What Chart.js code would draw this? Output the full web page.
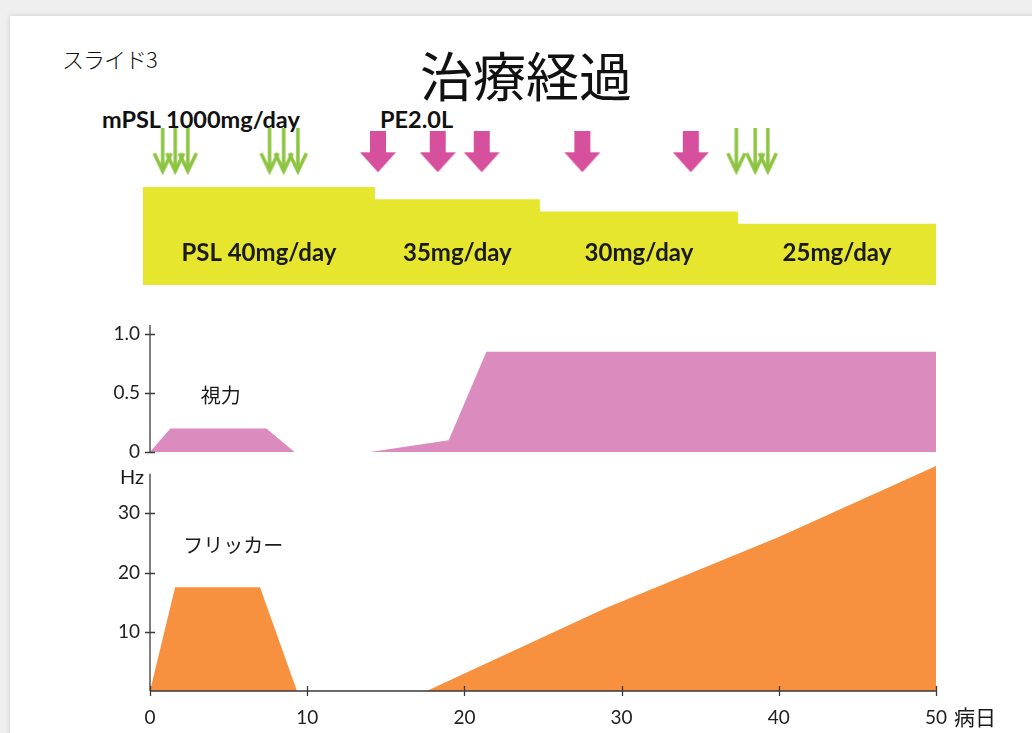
<!DOCTYPE html>
<html lang="ja">
<head>
<meta charset="utf-8">
<title>治療経過</title>
<script src="https://cdn.jsdelivr.net/npm/chart.js@4.4.1/dist/chart.umd.min.js"></script>
<style>
  html, body { margin: 0; padding: 0; }
  body { width: 1032px; height: 733px; overflow: hidden; position: relative; background: #efefef; }
  #slide { position: absolute; left: 10px; top: 16px; width: 1060px; height: 760px; background: #fff;
           box-shadow: 0 0 6px rgba(0,0,0,0.14); }
  canvas { position: absolute; left: 0; }
  .t { position: absolute; white-space: nowrap; line-height: 1; color: #111; }
  #title { left: 420px; top: 36px; font: 400 53px "Noto Sans CJK JP", sans-serif; }
  #slideNo { left: 62px; top: 42px; font: 300 22px "Noto Sans CJK JP", sans-serif; letter-spacing: -1px; }
  .drug { font: 700 23.5px Lato, "Open Sans", sans-serif; top: 105px; }
</style>
</head>
<body>
<div id="slide"></div>
<div class="t" id="slideNo">スライド3</div>
<div class="t" id="title">治療経過</div>
<div class="t drug" style="left:102px">mPSL 1000mg/day</div>
<div class="t drug" style="left:380px">PE2.0L</div>
<canvas id="cTreat" width="1032" height="300" style="top:0"></canvas>
<canvas id="cVision" width="1032" height="160" style="top:300px"></canvas>
<canvas id="cFlicker" width="1032" height="278" style="top:455px"></canvas>
<script>
// Prednisolone dose steps (mg/day), each level held until the next change day
const doseDays   = [-0.45, 14.3, 24.8, 37.4, 50];
const doseValues = [40, 35, 30, 25, 25];
const doseLabels = ['PSL 40mg/day', '35mg/day', '30mg/day', '25mg/day'];

// Pulse days: methylprednisolone (green) and plasma exchange (magenta)
const mpslDays = [0.8, 1.6, 2.4, 7.6, 8.5, 9.4, 37.3, 38.5, 39.3];
const peDays   = [14.5, 18.3, 21.1, 27.5, 34.4];

// Visual acuity (null = not measurable)
const visionDays   = [0, 1.3, 7.4, 9.2, 11, 14.0, 19.0, 21.4, 50];
const visionValues = [0, 0.2, 0.2, 0, null, 0, 0.1, 0.85, 0.85];

// Critical flicker frequency (Hz)
const flickerDays   = [0, 1.6, 7.0, 9.35, 13, 17.6, 29, 40, 50];
const flickerValues = [0, 17.5, 17.5, 0, null, 0, 14, 26, 38];

// Axis ticks
const dayTicks          = [0, 10, 20, 30, 40, 50];
const visionTicks       = [0, 0.5, 1.0];
const visionTickLabels  = ['0', '0.5', '1.0'];
const flickerTicks      = [10, 20, 30];
const flickerTickLabels = ['10', '20', '30'];

const ARROW_ROW = 0.72;
const TICK_FONT = { family: 'Lato, "Open Sans", sans-serif', size: 19 };
const AXIS_COLOR = '#3a3a3a';

const pts = (xs, ys) => xs.map((x, i) => ({ x, y: ys[i] }));

function blockArrow(color) {
  const c = document.createElement('canvas');
  c.width = 36; c.height = 41;
  const g = c.getContext('2d');
  g.fillStyle = color;
  g.beginPath();
  g.moveTo(10, 0); g.lineTo(26, 0); g.lineTo(26, 21); g.lineTo(36, 21);
  g.lineTo(18, 41); g.lineTo(0, 21); g.lineTo(10, 21); g.closePath();
  g.fill();
  return c;
}
function lineArrow(color) {
  const c = document.createElement('canvas');
  c.width = 22; c.height = 47;
  const g = c.getContext('2d');
  g.strokeStyle = color; g.lineWidth = 3.5; g.lineJoin = 'miter'; g.lineCap = 'butt';
  g.beginPath(); g.moveTo(11, 0); g.lineTo(11, 43); g.stroke();
  g.beginPath(); g.moveTo(2.5, 25); g.lineTo(11, 43); g.lineTo(19.5, 25); g.stroke();
  return c;
}

const common = {
  responsive: false,
  animation: false,
  events: [],
  plugins: { legend: { display: false }, tooltip: { enabled: false } }
};

// Labels inside each dose step
const doseLabelPlugin = {
  id: 'doseLabels',
  afterDatasetsDraw(chart) {
    const { ctx } = chart;
    const xs = chart.scales.x, ys = chart.scales.yDose;
    ctx.save();
    ctx.font = '700 24px Lato, "Open Sans", sans-serif';
    ctx.fillStyle = '#1a1a1a';
    ctx.textAlign = 'center';
    ctx.textBaseline = 'middle';
    const base = ys.getPixelForValue(0);
    doseLabels.forEach((lab, i) => {
      const cx = (xs.getPixelForValue(doseDays[i]) + xs.getPixelForValue(doseDays[i + 1])) / 2;
      ctx.fillText(lab, cx, base - 32);
    });
    ctx.restore();
  }
};

new Chart(document.getElementById('cTreat'), {
  type: 'line',
  data: {
    datasets: [
      { data: pts(mpslDays, mpslDays.map(() => ARROW_ROW)), yAxisID: 'yMark', showLine: false,
        pointStyle: lineArrow('#8cc43f'), pointRadius: 10 },
      { data: pts(peDays, peDays.map(() => ARROW_ROW)), yAxisID: 'yMark', showLine: false,
        pointStyle: blockArrow('#d6509d'), pointRadius: 10 },
      { data: pts(doseDays, doseValues), yAxisID: 'yDose', stepped: 'before', fill: 'origin',
        backgroundColor: '#e6e62e', borderWidth: 0, pointRadius: 0 }
    ]
  },
  options: {
    ...common,
    layout: { padding: { left: 143, right: 96, top: 100, bottom: 15 } },
    scales: {
      x: { type: 'linear', axis: 'x', min: -0.45, max: 50, display: false },
      yDose: { type: 'linear', axis: 'y', min: 0, max: 75.5, display: false },
      yMark: { type: 'linear', axis: 'y', min: 0, max: 1, display: false }
    }
  },
  plugins: [doseLabelPlugin]
});

// Axis lines with cross-shaped ticks, plus panel labels
const crossAxisPlugin = {
  id: 'crossAxis',
  afterDraw(chart, args, opts) {
    const { ctx } = chart;
    const xs = chart.scales.x, ys = chart.scales.y;
    const x0 = xs.getPixelForValue(0);
    const y0 = ys.getPixelForValue(0);
    ctx.save();
    ctx.strokeStyle = AXIS_COLOR;
    ctx.lineWidth = 1.3;
    ctx.beginPath();
    ctx.moveTo(x0, y0);
    ctx.lineTo(x0, ys.getPixelForValue(opts.axisTop));
    ys.ticks.forEach(t => {
      const p = Math.round(ys.getPixelForValue(t.value)) + 0.5;
      ctx.moveTo(x0 - 5, p); ctx.lineTo(x0 + 5, p);
    });
    if (opts.xAxis) {
      ctx.moveTo(x0, y0); ctx.lineTo(xs.getPixelForValue(50), y0);
      xs.ticks.forEach(t => {
        const p = Math.round(xs.getPixelForValue(t.value)) + 0.5;
        ctx.moveTo(p, y0 - 5); ctx.lineTo(p, y0 + 5);
      });
    }
    ctx.stroke();
    ctx.fillStyle = '#1a1a1a';
    (opts.texts || []).forEach(tx => {
      ctx.font = tx.font;
      ctx.textAlign = tx.align || 'center';
      ctx.textBaseline = 'middle';
      const px = tx.px !== undefined ? tx.px(xs, ys) : xs.getPixelForValue(tx.x);
      const py = tx.py !== undefined ? tx.py(xs, ys) : ys.getPixelForValue(tx.y);
      ctx.fillText(tx.text, px, py);
    });
    ctx.restore();
  }
};

function yAxis(min, max, ticks, labels) {
  return {
    type: 'linear', min, max,
    grid: { display: false, drawTicks: false },
    border: { display: false },
    afterFit: s => { s.width = 150; s.paddingTop = 0; s.paddingBottom = 0; },
    afterBuildTicks: s => { s.ticks = ticks.map(v => ({ value: v })); },
    ticks: { padding: 10, color: '#222', font: TICK_FONT,
             callback: (v, i) => labels[i] }
  };
}

new Chart(document.getElementById('cVision'), {
  type: 'line',
  data: {
    datasets: [
      { data: pts(visionDays, visionValues), fill: 'origin', backgroundColor: '#db8bbe',
        borderWidth: 0, pointRadius: 0, spanGaps: false }
    ]
  },
  options: {
    ...common,
    layout: { padding: { left: 0, right: 96, top: 25, bottom: 8 } },
    scales: {
      x: { type: 'linear', min: 0, max: 50, display: false },
      y: yAxis(0, 1.076, visionTicks, visionTickLabels)
    },
    plugins: {
      ...common.plugins,
      crossAxis: {
        axisTop: 1.076,
        texts: [{ text: '視力', x: 4.5, y: 0.48, font: '400 20px "Noto Sans CJK JP", sans-serif' }]
      }
    }
  },
  plugins: [crossAxisPlugin]
});

new Chart(document.getElementById('cFlicker'), {
  type: 'line',
  data: {
    datasets: [
      { data: pts(flickerDays, flickerValues), fill: 'origin', backgroundColor: '#f7913f',
        borderWidth: 0, pointRadius: 0, spanGaps: false }
    ]
  },
  options: {
    ...common,
    layout: { padding: { left: 0, right: 96, top: 8, bottom: 0 } },
    scales: {
      x: {
        type: 'linear', min: 0, max: 50,
        grid: { display: false, drawTicks: false },
        border: { display: false },
        afterFit: s => { s.height = 42; },
        afterBuildTicks: s => { s.ticks = dayTicks.map(v => ({ value: v })); },
        ticks: { padding: 15, color: '#222', font: TICK_FONT, maxRotation: 0,
                 callback: v => String(v) }
      },
      y: yAxis(0, 38.5, flickerTicks, flickerTickLabels)
    },
    plugins: {
      ...common.plugins,
      crossAxis: {
        axisTop: 36.7,
        xAxis: true,
        texts: [
          { text: 'フリッカー', x: 5.3, y: 24.6, font: '400 20px "Noto Sans CJK JP", sans-serif' },
          { text: 'Hz', align: 'right', font: '400 20px Lato, sans-serif',
            px: xs => xs.getPixelForValue(0) - 6, py: (xs, ys) => ys.getPixelForValue(36.7) + 4 },
          { text: '病日', align: 'left', font: '400 21px "Noto Sans CJK JP", sans-serif',
            px: xs => xs.getPixelForValue(50) + 18, py: (xs, ys) => ys.getPixelForValue(0) + 26 }
        ]
      }
    }
  },
  plugins: [crossAxisPlugin]
});
</script>
</body>
</html>
